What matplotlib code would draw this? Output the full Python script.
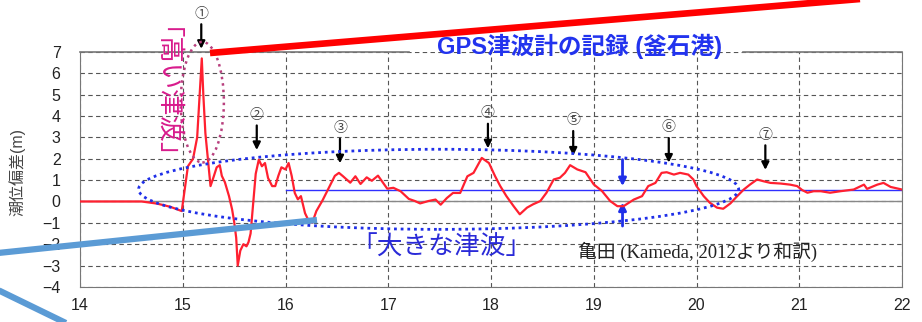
import numpy as np
import matplotlib
matplotlib.use('Agg')
from matplotlib import pyplot as plt
from matplotlib.patches import Ellipse
from matplotlib.lines import Line2D

plt.rcParams['font.family'] = ['Liberation Sans', 'Noto Sans CJK JP']
plt.rcParams['axes.unicode_minus'] = True

# GPS tsunami gauge record, Kamaishi (time in hours, sea level deviation in m)
hours = [14.00, 14.60, 14.75, 14.88, 14.99, 15.05, 15.10, 15.14, 15.17, 15.185,
         15.20, 15.22, 15.25, 15.27, 15.30, 15.33, 15.36, 15.38, 15.41, 15.45,
         15.48, 15.50, 15.52, 15.535, 15.56, 15.59, 15.62, 15.64, 15.66, 15.68,
         15.71, 15.74, 15.77, 15.80, 15.83, 15.87, 15.90, 15.93, 15.96, 16.00,
         16.03, 16.06, 16.09, 16.12, 16.15, 16.19, 16.22, 16.26, 16.30, 16.36,
         16.43, 16.48, 16.52, 16.56, 16.63, 16.68, 16.73, 16.79, 16.84, 16.90,
         16.99, 17.05, 17.12, 17.20, 17.26, 17.31, 17.39, 17.46, 17.51, 17.57,
         17.63, 17.70, 17.77, 17.83, 17.91, 17.98, 18.04, 18.09, 18.15, 18.22,
         18.28, 18.35, 18.41, 18.48, 18.54, 18.61, 18.67, 18.72, 18.77, 18.84,
         18.92, 19.00, 19.08, 19.16, 19.23, 19.29, 19.39, 19.47, 19.53, 19.60,
         19.66, 19.71, 19.78, 19.84, 19.92, 19.97, 20.00, 20.07, 20.13, 20.20,
         20.26, 20.33, 20.39, 20.46, 20.52, 20.59, 20.65, 20.72, 20.82, 20.91,
         20.98, 21.03, 21.08, 21.14, 21.21, 21.30, 21.40, 21.53, 21.63, 21.66,
         21.76, 21.82, 21.89, 22.00]
level = [0.00, 0.00, -0.10, -0.25, -0.45, 1.65, 2.00, 3.00, 5.50, 6.70,
         5.00, 3.20, 1.70, 0.72, 1.15, 1.60, 1.70, 1.20, 0.90, 0.25,
         -0.37, -0.95, -1.70, -3.00, -2.30, -2.00, -2.10, -1.90, -1.50, -0.40,
         1.30, 1.96, 1.65, 1.80, 1.10, 0.72, 0.72, 1.20, 1.60, 1.50,
         1.80, 1.20, 0.40, 0.10, 0.25, -0.55, -0.85, -1.00, -0.45, 0.05,
         0.72, 1.20, 1.34, 1.18, 0.88, 1.18, 0.82, 1.13, 0.97, 1.21,
         0.60, 0.64, 0.48, 0.12, 0.02, -0.09, 0.02, 0.09, -0.15, 0.16,
         0.40, 0.40, 1.18, 1.34, 2.04, 1.80, 1.18, 0.72, 0.25, -0.22,
         -0.60, -0.29, -0.13, 0.02, 0.41, 1.03, 1.11, 1.34, 1.70, 1.50,
         1.37, 0.80, 0.49, 0.02, -0.22, -0.22, 0.09, 0.25, 0.72, 0.87,
         1.34, 1.37, 1.26, 1.34, 1.26, 1.03, 0.72, 0.25, -0.06, -0.29,
         -0.34, -0.09, 0.22, 0.56, 0.79, 1.03, 0.95, 0.87, 0.84, 0.79,
         0.72, 0.53, 0.41, 0.48, 0.48, 0.41, 0.48, 0.56, 0.79, 0.59,
         0.79, 0.87, 0.68, 0.56]

mean_start = 16.0
mean_level = 0.53
wave_times = [15.18, 15.72, 16.53, 17.97, 18.80, 19.73, 20.67]
wave_labels = ['①', '②', '③', '④', '⑤', '⑥', '⑦']
x_ticks = [14, 15, 16, 17, 18, 19, 20, 21, 22]
y_ticks = [-4, -3, -2, -1, 0, 1, 2, 3, 4, 5, 6, 7]

fig = plt.figure(figsize=(9.22, 3.22), dpi=100)
ax = fig.add_axes([0.0868, 0.109, 0.8915, 0.7295])

ax.set_xlim(14, 22)
ax.set_ylim(-4, 7)
ax.set_xticks(x_ticks)
ax.set_yticks(y_ticks)
ax.tick_params(length=0, labelsize=11.5, labelcolor='#222')
ax.tick_params(axis='y', pad=14)
ax.tick_params(axis='x', pad=8)
ax.grid(True, ls=(0, (4, 3)), color='#555', lw=0.8)
for s in ['left', 'right', 'bottom']:
    ax.spines[s].set_color('#777')
ax.spines['top'].set_visible(False)
# top frame broken by the title
ax.axhline(7, xmin=0, xmax=0.40, color='#777', lw=1.2, clip_on=False)
ax.axhline(7, xmin=0.806, xmax=1, color='#777', lw=1.2, clip_on=False)

ax.axhline(0, color='#888', lw=1)
ax.plot([mean_start, 22], [mean_level, mean_level], color='#3030ff', lw=1)
ax.plot(hours, level, color='#ff2030', lw=1.6, zorder=4)

ax.set_ylabel('潮位偏差(m)', fontsize=11.5, color='#444')
ax.yaxis.set_label_coords(-0.067, 0.49)

# wave markers
t_arr = np.array(hours)
v_arr = np.array(level)
for t, lab in zip(wave_times, wave_labels):
    near = (t_arr > t - 0.1) & (t_arr < t + 0.1)
    peak = v_arr[near].max()
    tip = peak + 0.45
    tail = tip + 1.15
    ax.annotate('', xy=(t, tip), xytext=(t, tail), annotation_clip=False,
                arrowprops=dict(arrowstyle='-|>', color='k', lw=1.6,
                                mutation_scale=11, shrinkA=0, shrinkB=0))
    ax.text(t, tail + 0.5, lab, ha='center', va='center', fontsize=10,
            color='#444', clip_on=False)

# ellipses
ax.add_patch(Ellipse((15.19, 4.65), 0.42, 5.65, fill=False, ec='#b8407e',
                     ls=(0, (1, 1.6)), lw=1.8, clip_on=False, zorder=5))
ax.add_patch(Ellipse((17.49, 0.57), 5.84, 3.75, fill=False, ec='#1f2fe8',
                     ls=(0, (1, 1.4)), lw=2.0, zorder=5))

# amplitude arrows
ax.annotate('', xy=(19.28, 0.72), xytext=(19.28, 1.96),
            arrowprops=dict(arrowstyle='-|>', color='#1f2fe8', lw=2,
                            mutation_scale=11, shrinkA=0, shrinkB=0))
ax.annotate('', xy=(19.28, -0.05), xytext=(19.28, -1.15),
            arrowprops=dict(arrowstyle='-|>', color='#1f2fe8', lw=2,
                            mutation_scale=11, shrinkA=0, shrinkB=0))

# labels
ax.text(18.86, 7.24, 'GPS津波計の記録 (釜石港)', ha='center', va='center',
        fontsize=17, fontweight='bold', color='#2233ee', clip_on=False, zorder=6)
ax.text(14.70, 4.45, '「高い津波」', rotation=-90, ha='center', va='center',
        fontsize=19, color='#d81b8c', clip_on=False, zorder=6)
ax.text(17.52, -2.15, '「大きな津波」', ha='center', va='center',
        fontsize=18.5, color='#2a2ad8', zorder=6)
ax.text(18.85, -2.38, '亀田 (Kameda, 2012より和訳)', ha='left', va='center',
        fontsize=13.5, color='#222', family=['Liberation Serif', 'Noto Sans CJK JP'],
        zorder=6)

# overlay pointer lines (figure pixels)
W, H = 922, 322
def fig_line(x0, y0, x1, y1, color, lw):
    fig.add_artist(Line2D([x0 / W, x1 / W], [1 - y0 / H, 1 - y1 / H],
                          transform=fig.transFigure, color=color, lw=lw,
                          solid_capstyle='butt', zorder=10))

fig_line(210, 53, 872, -2, '#ff0000', 4.8)
fig_line(-2, 253, 317, 220, '#5b9bd5', 4.5)
fig_line(-2, 290, 72, 326, '#5b9bd5', 4.5)

fig.savefig('out.png', dpi=100)
